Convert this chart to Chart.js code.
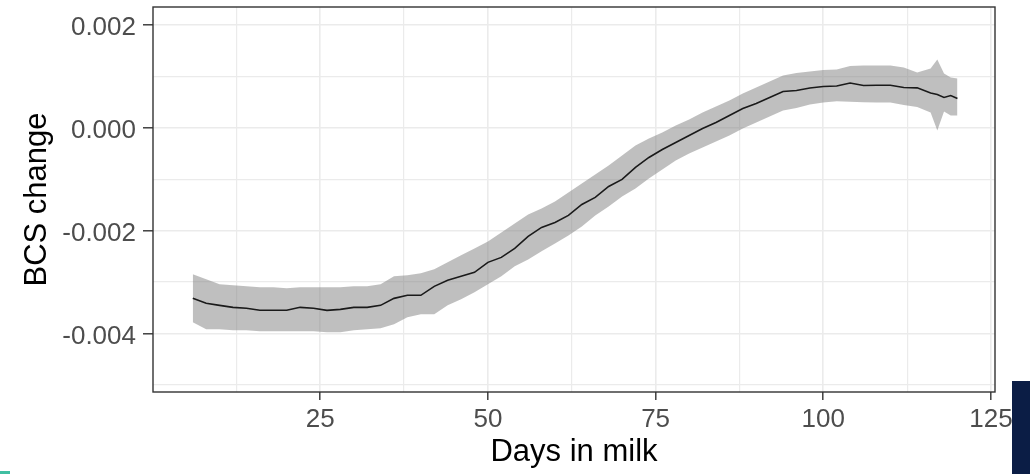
<!DOCTYPE html>
<html>
<head>
<meta charset="utf-8">
<script src="https://cdn.jsdelivr.net/npm/chart.js@4.4.1/dist/chart.umd.min.js"></script>
<style>
  html, body { margin: 0; padding: 0; background: #ffffff; }
  #wrap { position: relative; width: 1030px; height: 474px; overflow: hidden; }
  #c { position: absolute; left: 0; top: 0; }
  .deco1 { position: absolute; left: 1012px; top: 381px; width: 18px; height: 93px; background: #0b1d45; }
  .deco2 { position: absolute; left: 0px; top: 471px; width: 10px; height: 3px; background: #40bfa2; }
</style>
</head>
<body>
<div id="wrap">
  <canvas id="c" width="1030" height="474"></canvas>
  <div class="deco1"></div>
  <div class="deco2"></div>
</div>
<script>
// ---- data ----
const days = [6,8,10,12,14,16,18,20,22,24,26,28,30,32,34,36,38,40,42,44,46,48,50,52,54,56,58,60,62,64,66,68,70,72,74,76,78,80,82,84,86,88,90,92,94,96,98,100,102,104,106,108,110,112,114,116,117,118,119,120];

const bcsMean = [-0.003318,-0.003415,-0.003454,-0.003493,-0.003512,-0.003551,-0.003551,-0.003551,-0.003493,-0.003512,-0.003551,-0.003532,-0.003493,-0.003493,-0.003454,-0.003318,-0.003259,-0.003259,-0.003085,-0.002968,-0.002890,-0.002812,-0.002618,-0.002521,-0.002346,-0.002113,-0.001938,-0.001841,-0.001705,-0.001491,-0.001355,-0.001141,-0.001005,-0.000772,-0.000577,-0.000422,-0.000286,-0.000150,-0.000014,0.000103,0.000239,0.000375,0.000472,0.000589,0.000706,0.000725,0.000774,0.000803,0.000812,0.000871,0.000822,0.000828,0.000828,0.000783,0.000777,0.000676,0.000647,0.000589,0.000628,0.000569];

const bcsUpper = [-0.002851,-0.002948,-0.003046,-0.003065,-0.003085,-0.003104,-0.003104,-0.003123,-0.003104,-0.003104,-0.003104,-0.003104,-0.003085,-0.003085,-0.003046,-0.002890,-0.002871,-0.002832,-0.002754,-0.002618,-0.002482,-0.002346,-0.002210,-0.002035,-0.001860,-0.001685,-0.001569,-0.001432,-0.001258,-0.001083,-0.000908,-0.000733,-0.000538,-0.000344,-0.000208,-0.000091,0.000045,0.000161,0.000297,0.000414,0.000531,0.000667,0.000783,0.000900,0.001017,0.001065,0.001094,0.001123,0.001133,0.001201,0.001211,0.001211,0.001211,0.001172,0.001075,0.001153,0.001328,0.001055,0.000978,0.000958];

const bcsLower = [-0.003784,-0.003920,-0.003920,-0.003940,-0.003940,-0.003959,-0.003959,-0.003959,-0.003959,-0.003959,-0.003979,-0.003979,-0.003940,-0.003920,-0.003901,-0.003823,-0.003687,-0.003629,-0.003629,-0.003454,-0.003337,-0.003201,-0.003046,-0.002890,-0.002696,-0.002560,-0.002404,-0.002249,-0.002093,-0.001918,-0.001705,-0.001530,-0.001335,-0.001180,-0.000985,-0.000810,-0.000636,-0.000500,-0.000383,-0.000266,-0.000150,-0.000014,0.000103,0.000220,0.000336,0.000385,0.000453,0.000492,0.000517,0.000505,0.000498,0.000492,0.000492,0.000443,0.000404,0.000297,-0.000052,0.000317,0.000239,0.000239];

const xMajorTicks = [25, 50, 75, 100, 125];
const xMajorLabels = ['25', '50', '75', '100', '125'];
const xMinorTicks = [12.5, 37.5, 62.5, 87.5, 112.5];
const yMajorTicks = [-0.004, -0.002, 0.000, 0.002];
const yMajorLabels = ['-0.004', '-0.002', '0.000', '0.002'];
const yMinorTicks = [-0.005, -0.003, -0.001, 0.001];

const xTitle = 'Days in milk';
const yTitle = 'BCS change';

// ---- helpers ----
function findMajor(list, v) {
  for (let i = 0; i < list.length; i++) {
    if (Math.abs(list[i] - v) < 1e-9) return i;
  }
  return -1;
}
const pts = (arr) => days.map((d, i) => ({ x: d, y: arr[i] }));

const panelBorder = {
  id: 'panelBorder',
  afterDatasetsDraw(chart) {
    const { ctx, chartArea: a } = chart;
    ctx.save();
    ctx.strokeStyle = '#333333';
    ctx.lineWidth = 1.4;
    ctx.strokeRect(a.left, a.top, a.right - a.left, a.bottom - a.top);
    ctx.restore();
  }
};

new Chart(document.getElementById('c'), {
  type: 'line',
  data: {
    datasets: [
      {
        label: 'mean',
        data: pts(bcsMean),
        borderColor: '#1a1a1a',
        borderWidth: 1.6,
        pointRadius: 0,
        fill: false,
        tension: 0
      },
      {
        label: 'upper',
        data: pts(bcsUpper),
        borderColor: 'rgba(0,0,0,0)',
        borderWidth: 0,
        pointRadius: 0,
        backgroundColor: 'rgba(128,128,128,0.5)',
        fill: '+1',
        tension: 0
      },
      {
        label: 'lower',
        data: pts(bcsLower),
        borderColor: 'rgba(0,0,0,0)',
        borderWidth: 0,
        pointRadius: 0,
        fill: false,
        tension: 0
      }
    ]
  },
  options: {
    responsive: false,
    animation: false,
    devicePixelRatio: 1,
    events: [],
    layout: { padding: { top: 7, right: 35, left: 0, bottom: 0 } },
    plugins: { legend: { display: false }, tooltip: { enabled: false } },
    scales: {
      x: {
        type: 'linear',
        min: 0.07,
        max: 125.6,
        afterBuildTicks: (axis) => {
          axis.ticks = xMinorTicks.concat(xMajorTicks).sort((a, b) => a - b).map(v => ({ value: v }));
        },
        afterFit: (axis) => { axis.height = 82; axis.paddingLeft = 0; axis.paddingRight = 0; },
        border: { display: false },
        grid: {
          color: '#ebebeb',
          lineWidth: (c) => findMajor(xMajorTicks, c.tick.value) >= 0 ? 1.6 : 1.2,
          tickColor: (c) => findMajor(xMajorTicks, c.tick.value) >= 0 ? '#333333' : 'rgba(0,0,0,0)',
          tickWidth: 1.4,
          tickLength: 8,
          drawTicks: true
        },
        ticks: {
          autoSkip: false,
          maxRotation: 0,
          padding: 4,
          color: '#4d4d4d',
          font: { family: 'Liberation Sans, Arial, sans-serif', size: 26 },
          callback: (v) => { const i = findMajor(xMajorTicks, v); return i >= 0 ? xMajorLabels[i] : ''; }
        },
        title: {
          display: true,
          text: xTitle,
          color: '#000000',
          font: { family: 'Liberation Sans, Arial, sans-serif', size: 31 },
          padding: { top: 0, bottom: 3 }
        }
      },
      y: {
        type: 'linear',
        min: -0.00514,
        max: 0.00235,
        afterBuildTicks: (axis) => {
          axis.ticks = yMinorTicks.concat(yMajorTicks).sort((a, b) => a - b).map(v => ({ value: v }));
        },
        afterFit: (axis) => { axis.width = 153; axis.paddingTop = 0; axis.paddingBottom = 0; },
        border: { display: false },
        grid: {
          color: '#ebebeb',
          lineWidth: (c) => findMajor(yMajorTicks, c.tick.value) >= 0 ? 1.6 : 1.2,
          tickColor: (c) => findMajor(yMajorTicks, c.tick.value) >= 0 ? '#333333' : 'rgba(0,0,0,0)',
          tickWidth: 1.4,
          tickLength: 10,
          drawTicks: true
        },
        ticks: {
          autoSkip: false,
          padding: 7,
          labelOffset: 3,
          color: '#4d4d4d',
          font: { family: 'Liberation Sans, Arial, sans-serif', size: 26 },
          callback: (v) => { const i = findMajor(yMajorTicks, v); return i >= 0 ? yMajorLabels[i] : ''; }
        },
        title: {
          display: true,
          text: yTitle,
          color: '#000000',
          font: { family: 'Liberation Sans, Arial, sans-serif', size: 31 },
          padding: { top: 19, bottom: 0 }
        }
      }
    }
  },
  plugins: [panelBorder]
});
</script>
</body>
</html>
